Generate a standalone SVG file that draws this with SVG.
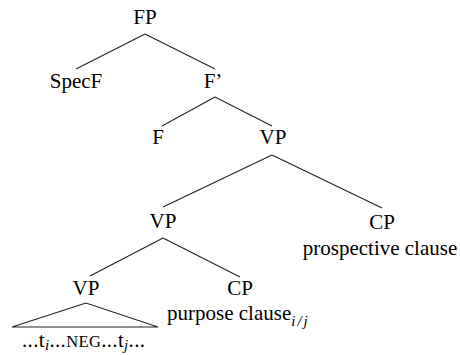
<svg xmlns="http://www.w3.org/2000/svg" width="460" height="355" viewBox="0 0 460 355">
<style>
text{font-family:"Liberation Serif","Times New Roman",serif;font-size:21px;fill:#000}
.n{text-anchor:middle}
.sub{font-style:italic;font-size:15px}
.sc{font-size:16.5px}
#edges line,#edges polygon{stroke:#222;stroke-width:1.1;fill:none}
</style>
<rect width="460" height="355" fill="#fff"/>
<g id="edges">
<line x1="145" y1="34" x2="76" y2="69"/>
<line x1="145" y1="34" x2="215" y2="69"/>
<line x1="215" y1="97" x2="162" y2="126"/>
<line x1="215" y1="97" x2="272" y2="126"/>
<line x1="272" y1="155" x2="163" y2="207"/>
<line x1="272" y1="155" x2="382" y2="208"/>
<line x1="163" y1="238" x2="90" y2="276"/>
<line x1="163" y1="238" x2="240" y2="277"/>
<polygon points="86,303 12,327 158,327"/>
</g>
<g id="FP"><text class="n" x="145" y="24">FP</text></g>
<g id="SpecF"><text class="n" x="76" y="88">SpecF</text></g>
<g id="Fbar"><text class="n" x="213" y="88">F’</text></g>
<g id="F"><text class="n" x="158" y="144">F</text></g>
<g id="VP1"><text class="n" x="273" y="144">VP</text></g>
<g id="VP2"><text class="n" x="163" y="228">VP</text></g>
<g id="CP1"><text class="n" x="382" y="229">CP</text><text class="n" x="380" y="255">prospective clause</text></g>
<g id="VP3"><text class="n" x="86" y="295">VP</text><text x="22" y="347" textLength="123" lengthAdjust="spacing">...t<tspan class="sub" dy="3">i</tspan><tspan dy="-3">...</tspan><tspan class="sc">NEG</tspan>...t<tspan class="sub" dy="3">j</tspan><tspan dy="-3">...</tspan></text></g>
<g id="CP2"><text class="n" x="240" y="295">CP</text><text x="167" y="320">purpose clause<tspan class="sub" dy="6" letter-spacing="2">i/j</tspan></text></g>
</svg>
